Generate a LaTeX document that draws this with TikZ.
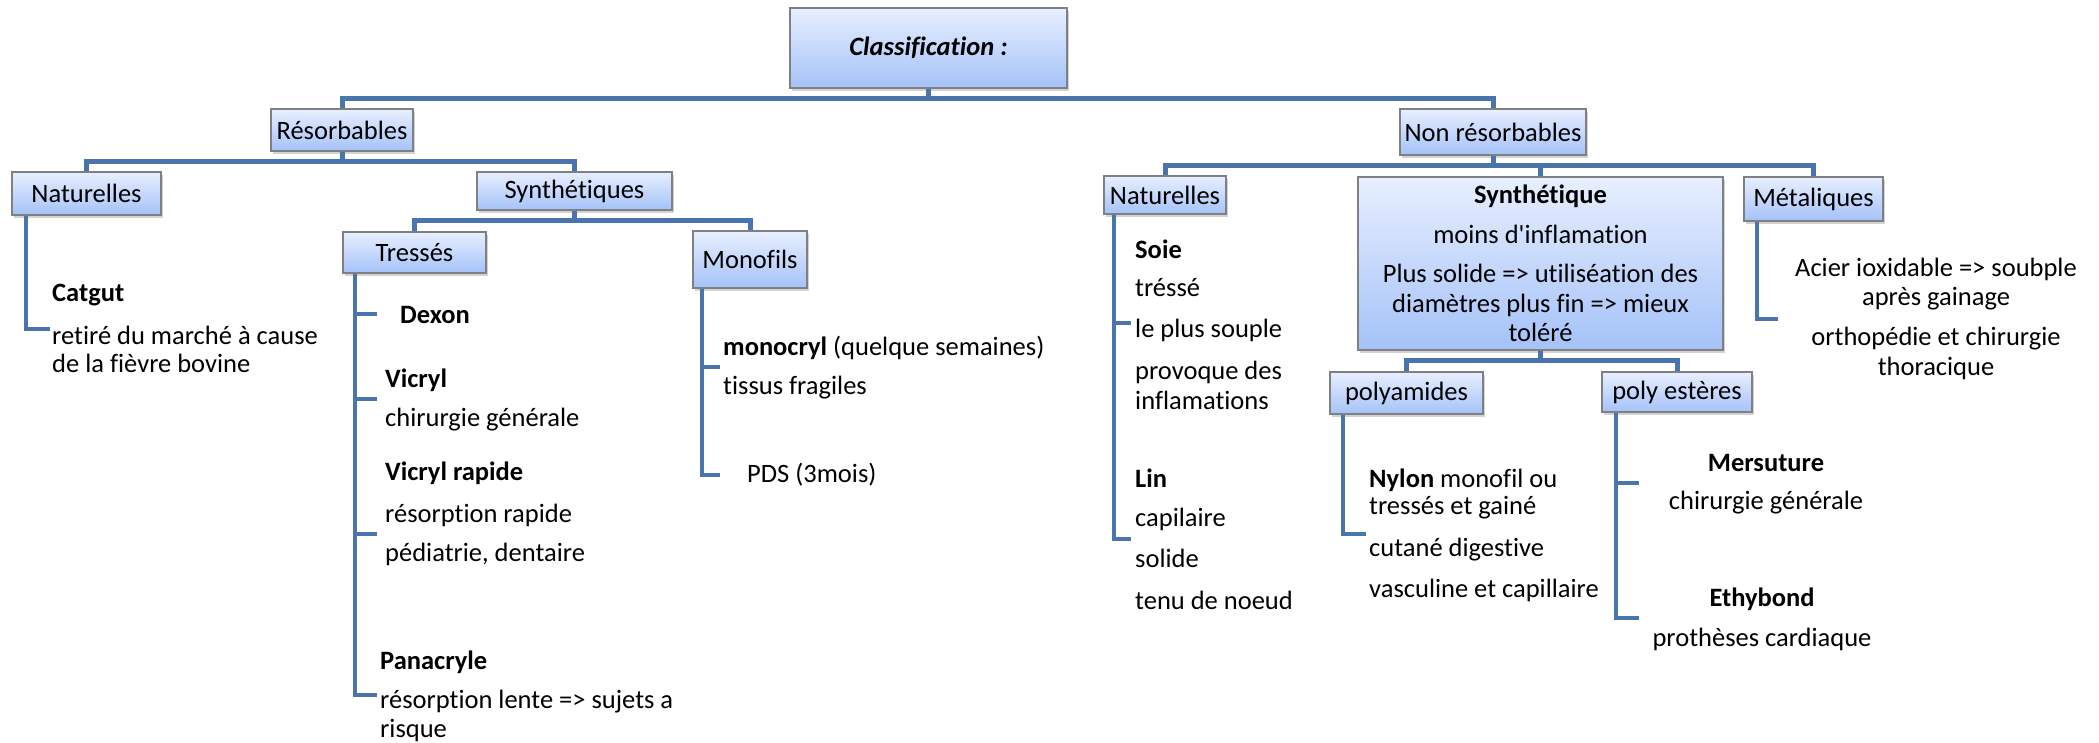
\documentclass[tikz,border=0pt]{standalone}
\usepackage{fontspec}
\setmainfont{Carlito}[Ligatures={NoCommon,TeXOff}]
\usetikzlibrary{shadows}
\definecolor{linec}{HTML}{4A74AC}
\definecolor{boxtop}{HTML}{E8EFFF}
\definecolor{boxbot}{HTML}{A4C2F8}
\definecolor{boxborder}{HTML}{808080}
\tikzset{
  every node/.style={font=\fontsize{26.5}{29.5}\selectfont},
  catbox/.style={draw=boxborder, line width=1.5pt, top color=boxtop, bottom color=boxbot,
     inner sep=0pt, align=center,
     drop shadow={opacity=0.35, shadow xshift=2pt, shadow yshift=-3pt}},
  link/.style={draw=linec, line width=5pt},
  brk/.style={draw=linec, line width=4pt},
  txt/.style={anchor=west, inner sep=0pt},
  ctxt/.style={anchor=center, inner sep=0pt}
}
\begin{document}
\begin{tikzpicture}[x=1pt,y=-1pt]
\useasboundingbox (0,0) rectangle (2099,742);
% boxes
\node[catbox, minimum width=277, minimum height=80] (cls) at (928.5,48) {\textit{\textbf{Classification :}}};
\node[catbox, minimum width=142, minimum height=42] (res) at (342,130) {Résorbables};
\node[catbox, minimum width=149, minimum height=43] (natL) at (86.5,193.5) {Naturelles};
\node[catbox, minimum width=195, minimum height=38] (synL) at (574.5,191) {Synthétiques};
\node[catbox, minimum width=143, minimum height=41] (tre) at (414.5,252.5) {Tressés};
\node[catbox, minimum width=114, minimum height=57] (mono) at (750,259.5) {Monofils};
\node[catbox, minimum width=186, minimum height=46] (nonres) at (1493,132) {Non résorbables};
\node[catbox, minimum width=122, minimum height=38] (natR) at (1165,195) {Naturelles};
\node[catbox, minimum width=365, minimum height=173] (synR) at (1540.5,263.5)
  {\textbf{Synthétique}\\[10pt] moins d'inflamation\\[10pt] Plus solide => utiliséation des\\ diamètres plus fin => mieux\\ toléré};
\node[catbox, minimum width=139, minimum height=44] (met) at (1813.5,199) {Métaliques};
\node[catbox, minimum width=153, minimum height=42] (polya) at (1406.5,393) {polyamides};
\node[catbox, minimum width=150, minimum height=40] (polye) at (1677,392) {poly estères};

% tree connectors
\draw[link] (cls.south) -- ++(0,10) -| (res.north);
\draw[link] (cls.south) -- ++(0,10) -| (nonres.north);
\draw[link] (res.south) -- ++(0,10) -| (natL.north);
\draw[link] (res.south) -- ++(0,10) -| (synL.north);
\draw[link] (synL.south) -- ++(0,10) -| (tre.north);
\draw[link] (synL.south) -- ++(0,10) -| (mono.north);
\draw[link] (nonres.south) -- ++(0,10) -| (natR.north);
\draw[link] (nonres.south) -- ++(0,10) -| (synR.north);
\draw[link] (nonres.south) -- ++(0,10) -| (met.north);
\draw[link] (synR.south) -- ++(0,10) -| (polya.north);
\draw[link] (synR.south) -- ++(0,10) -| (polye.north);

% leaf texts: Naturelles (left)
\node[txt] (catgut) at (52,295) {\textbf{Catgut}};
\node[txt] (ret1) at (52,335) {retiré du marché à cause};
\node[txt] (ret2) at (52,363) {de la fièvre bovine};
% Tressés
\node[txt] (dexon) at (400,315) {\textbf{Dexon}};
\node[txt] (vicryl) at (385,380) {\textbf{Vicryl}};
\node[txt] (chir1) at (385,420) {chirurgie générale};
\node[txt] (vicr) at (385,473) {\textbf{Vicryl rapide}};
\node[txt] (resr) at (385,515) {résorption rapide};
\node[txt] (pedi) at (385,554) {pédiatrie, dentaire};
\node[txt] (pana) at (380,662) {\textbf{Panacryle}};
\node[txt] (resl) at (380,702) {résorption lente => sujets a};
\node[txt] (risq) at (380,731) {risque};
% Monofils
\node[txt] (monoc) at (723,348) {\textbf{monocryl} (quelque semaines)};
\node[txt] (tiss) at (723,388) {tissus fragiles};
\node[txt] (pds) at (747,475) {PDS (3mois)};
% Naturelles (right)
\node[txt] (soie) at (1135,249) {\textbf{Soie}};
\node[txt] (tres) at (1135,288) {tréssé};
\node[txt] (soup) at (1135,330) {le plus souple};
\node[txt] (prov) at (1135,372) {provoque des};
\node[txt] (infl) at (1135,400) {inflamations};
\node[txt] (lin) at (1135,478) {\textbf{Lin}};
\node[txt] (capi) at (1135,519) {capilaire};
\node[txt] (soli) at (1135,558) {solide};
\node[txt] (tenu) at (1135,600) {tenu de noeud};
% polyamides
\node[txt] (nyl1) at (1369,480) {\textbf{Nylon} monofil ou};
\node[txt] (nyl2) at (1369,508) {tressés et gainé};
\node[txt] (cuta) at (1369,550) {cutané digestive};
\node[txt] (vasc) at (1369,590) {vasculine et capillaire};
% poly esteres
\node[ctxt] (mers) at (1766,463) {\textbf{Mersuture}};
\node[ctxt] (chir2) at (1766,503) {chirurgie générale};
\node[ctxt] (ethy) at (1762,599) {\textbf{Ethybond}};
\node[ctxt] (prot) at (1762,639) {prothèses cardiaque};
% Metaliques
\node[ctxt] (acie) at (1936,269) {Acier ioxidable => soubple};
\node[ctxt] (apre) at (1936,299) {après gainage};
\node[ctxt] (orth) at (1936,339) {orthopédie et chirurgie};
\node[ctxt] (thor) at (1936,368) {thoracique};

% bracket tick ends
\coordinate (tNL) at (50,329);
\coordinate (tT1) at (377,314);
\coordinate (tT2) at (377,399);
\coordinate (tT3) at (377,534);
\coordinate (tT4) at (377,695);
\coordinate (tM1) at (720,367);
\coordinate (tM2) at (720,475);
\coordinate (tNR1) at (1131,323);
\coordinate (tNR2) at (1131,539);
\coordinate (tMe) at (1778,319);
\coordinate (tPa) at (1366,534);
\coordinate (tPe1) at (1639,483);
\coordinate (tPe2) at (1639,618);

% brackets
\draw[brk] ([xshift=15pt]natL.south west) |- (tNL);
\draw[brk] ([xshift=13pt]tre.south west) |- (tT4);
\draw[brk] ([xshift=13pt]tre.south west) |- (tT1);
\draw[brk] ([xshift=13pt]tre.south west) |- (tT2);
\draw[brk] ([xshift=13pt]tre.south west) |- (tT3);
\draw[brk] ([xshift=10pt]mono.south west) |- (tM2);
\draw[brk] ([xshift=10pt]mono.south west) |- (tM1);
\draw[brk] ([xshift=11pt]natR.south west) |- (tNR2);
\draw[brk] ([xshift=11pt]natR.south west) |- (tNR1);
\draw[brk] ([xshift=14pt]met.south west) |- (tMe);
\draw[brk] ([xshift=14pt]polya.south west) |- (tPa);
\draw[brk] ([xshift=15pt]polye.south west) |- (tPe2);
\draw[brk] ([xshift=15pt]polye.south west) |- (tPe1);
\end{tikzpicture}
\end{document}
